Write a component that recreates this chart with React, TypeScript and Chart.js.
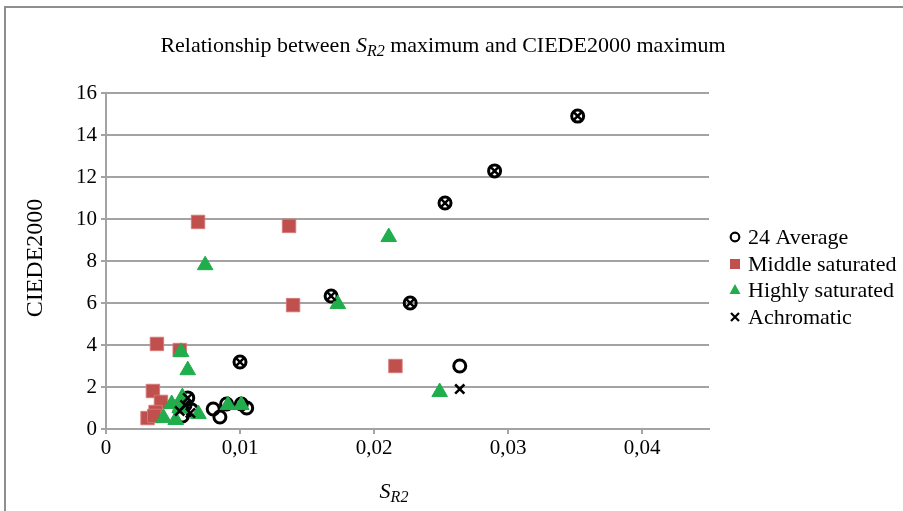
import React, { useEffect, useRef } from 'react';
import { Chart, registerables } from 'chart.js';

Chart.register(...registerables);

// ---- data ----
const averageX = [0.0352, 0.029, 0.0253, 0.0168, 0.0227, 0.01, 0.0264, 0.0059, 0.0061, 0.0057, 0.0064, 0.008, 0.0085, 0.009, 0.0101, 0.0105];
const averageY = [14.9, 12.29, 10.76, 6.33, 6.0, 3.19, 3.0, 1.14, 1.48, 0.62, 0.9, 0.95, 0.57, 1.19, 1.19, 1.0];

const middleX = [0.00687, 0.01366, 0.01396, 0.0038, 0.0055, 0.0216, 0.0035, 0.0041, 0.0037, 0.0031, 0.0036, 0.0055];
const middleY = [9.86, 9.67, 5.9, 4.05, 3.76, 3.0, 1.81, 1.29, 0.81, 0.52, 0.62, 1.05];

const highlyX = [0.0211, 0.0074, 0.0173, 0.0249, 0.0056, 0.0061, 0.0049, 0.0057, 0.0043, 0.0052, 0.0069, 0.0091, 0.0101, 0.0055];
const highlyY = [9.14, 7.8, 5.95, 1.76, 3.67, 2.8, 1.19, 1.52, 0.52, 0.43, 0.71, 1.14, 1.14, 1.0];

const achromaticX = [0.0352, 0.029, 0.0253, 0.0168, 0.0227, 0.01, 0.0264, 0.0055, 0.0059, 0.0063, 0.0061];
const achromaticY = [14.9, 12.29, 10.76, 6.33, 6.0, 3.19, 1.9, 0.86, 1.14, 0.76, 1.48];

const seriesNames = ['24 Average', 'Middle saturated', 'Highly saturated', 'Achromatic'];
const yTicks = [0, 2, 4, 6, 8, 10, 12, 14, 16];
const xTicks = [0, 0.01, 0.02, 0.03, 0.04];

const FONT = '"Liberation Serif", "Times New Roman", serif';
const GRID = '#a3a3a3';
const RED = '#c0504d';
const GREEN = '#1fae4b';

const toPoints = (xs: number[], ys: number[]) => xs.map((x, i) => ({ x, y: ys[i] }));

type Seg = { t: string; f: string; dy?: number };

function drawRich(ctx: CanvasRenderingContext2D, segs: Seg[], cx: number, y: number) {
  let w = 0;
  for (const s of segs) { ctx.font = s.f; w += ctx.measureText(s.t).width; }
  let x = cx - w / 2;
  ctx.textAlign = 'left';
  ctx.textBaseline = 'alphabetic';
  for (const s of segs) {
    ctx.font = s.f;
    ctx.fillText(s.t, x, y + (s.dy || 0));
    x += ctx.measureText(s.t).width;
  }
}

const decor = {
  id: 'decor',
  beforeDraw(chart: any) {
    const ctx = chart.ctx as CanvasRenderingContext2D;
    ctx.save();
    ctx.fillStyle = '#ffffff';
    ctx.fillRect(0, 0, chart.width, chart.height);
    ctx.strokeStyle = '#8e8e8e';
    ctx.lineWidth = 2;
    ctx.beginPath();
    ctx.moveTo(5, chart.height + 5);
    ctx.lineTo(5, 7);
    ctx.lineTo(chart.width + 5, 7);
    ctx.stroke();
    ctx.restore();
  },
  afterDraw(chart: any) {
    const ctx = chart.ctx as CanvasRenderingContext2D;
    ctx.save();
    ctx.fillStyle = '#000';
    // title
    drawRich(ctx, [
      { t: 'Relationship between ', f: `22px ${FONT}` },
      { t: 'S', f: `italic 22px ${FONT}` },
      { t: 'R2', f: `italic 16px ${FONT}`, dy: 4 },
      { t: ' maximum and CIEDE2000 maximum', f: `22px ${FONT}` },
    ], 443, 52);
    // x axis title
    drawRich(ctx, [
      { t: 'S', f: `italic 22px ${FONT}` },
      { t: 'R2', f: `italic 16px ${FONT}`, dy: 4 },
    ], 394, 498);
    // y axis title
    ctx.save();
    ctx.translate(36, 258);
    ctx.rotate(-Math.PI / 2);
    ctx.font = `24px ${FONT}`;
    ctx.textAlign = 'center';
    ctx.textBaseline = 'middle';
    ctx.fillText('CIEDE2000', 0, 0);
    ctx.restore();
    // legend
    const rows = [237, 264, 290, 317];
    const mx = 735;
    ctx.font = `22px ${FONT}`;
    ctx.textAlign = 'left';
    ctx.textBaseline = 'middle';
    rows.forEach((ry, i) => {
      ctx.save();
      if (i === 0) {
        ctx.strokeStyle = '#000'; ctx.lineWidth = 2.2;
        ctx.beginPath(); ctx.arc(mx, ry, 4.3, 0, Math.PI * 2); ctx.stroke();
      } else if (i === 1) {
        ctx.fillStyle = RED; ctx.fillRect(mx - 5, ry - 5, 10, 10);
      } else if (i === 2) {
        ctx.fillStyle = GREEN;
        ctx.beginPath(); ctx.moveTo(mx, ry - 6); ctx.lineTo(mx + 5.5, ry + 4); ctx.lineTo(mx - 5.5, ry + 4); ctx.closePath(); ctx.fill();
      } else {
        ctx.strokeStyle = '#000'; ctx.lineWidth = 2.2;
        ctx.beginPath(); ctx.moveTo(mx - 4, ry - 4); ctx.lineTo(mx + 4, ry + 4);
        ctx.moveTo(mx + 4, ry - 4); ctx.lineTo(mx - 4, ry + 4); ctx.stroke();
      }
      ctx.restore();
      ctx.fillStyle = '#000';
      ctx.fillText(seriesNames[i], 748, ry + 1);
    });
    ctx.restore();
  },
};

export default function App() {
  const ref = useRef<HTMLCanvasElement | null>(null);
  useEffect(() => {
    if (!ref.current) return;
    const chart = new Chart(ref.current, {
      type: 'scatter',
      data: {
        datasets: [
          {
            label: seriesNames[0], data: toPoints(averageX, averageY), order: 4,
            pointStyle: 'circle', pointRadius: 6, pointHoverRadius: 6,
            borderColor: '#000', backgroundColor: 'rgba(0,0,0,0)', borderWidth: 3, pointBorderWidth: 3,
          },
          {
            label: seriesNames[1], data: toPoints(middleX, middleY), order: 3,
            pointStyle: 'rect', pointRadius: 9.5, pointHoverRadius: 9.5,
            borderColor: 'rgba(214,120,118,0.9)', backgroundColor: RED, borderWidth: 1, pointBorderWidth: 1,
          },
          {
            label: seriesNames[2], data: toPoints(highlyX, highlyY), order: 2,
            pointStyle: 'triangle', pointRadius: 9, pointHoverRadius: 9,
            borderColor: GREEN, backgroundColor: GREEN, borderWidth: 1, pointBorderWidth: 1,
          },
          {
            label: seriesNames[3], data: toPoints(achromaticX, achromaticY), order: 1,
            pointStyle: 'crossRot', pointRadius: 6.5, pointHoverRadius: 6.5,
            borderColor: '#000', backgroundColor: '#000', borderWidth: 2.5, pointBorderWidth: 2.5,
          },
        ],
      },
      options: {
        animation: false,
        responsive: false,
        maintainAspectRatio: false,
        devicePixelRatio: 1,
        layout: { padding: { left: 0, top: 93, right: 194, bottom: 0 } },
        plugins: { legend: { display: false }, title: { display: false }, tooltip: { enabled: false } },
        scales: {
          x: {
            type: 'linear', min: 0, max: 0.045,
            afterBuildTicks: (s: any) => { s.ticks = xTicks.map((v) => ({ value: v })); },
            afterFit: (s: any) => { s.height = 82; },
            ticks: {
              color: '#000', font: { family: FONT, size: 21 }, padding: 2,
              callback: (v: any) => (Number(v) === 0 ? '0' : (Math.round(Number(v) * 100) / 100).toFixed(2).replace('.', ',')),
            },
            grid: { display: true, drawOnChartArea: false, drawTicks: true, tickLength: 5, color: GRID, lineWidth: 2 },
            border: { display: true, color: GRID, width: 2 },
          },
          y: {
            type: 'linear', min: 0, max: 16,
            afterBuildTicks: (s: any) => { s.ticks = yTicks.map((v) => ({ value: v })); },
            afterFit: (s: any) => { s.width = 106; },
            ticks: { color: '#000', font: { family: FONT, size: 21 }, padding: 4 },
            grid: { display: true, drawTicks: true, tickLength: 5, color: GRID, lineWidth: 2 },
            border: { display: true, color: GRID, width: 2 },
          },
        },
      },
      plugins: [decor],
    } as any);
    return () => chart.destroy();
  }, []);
  return (
    <div style={{ position: 'fixed', left: 0, top: 0, width: 903, height: 511, background: '#fff' }}>
      <canvas ref={ref} width={903} height={511} style={{ display: 'block', width: 903, height: 511 }} />
    </div>
  );
}
